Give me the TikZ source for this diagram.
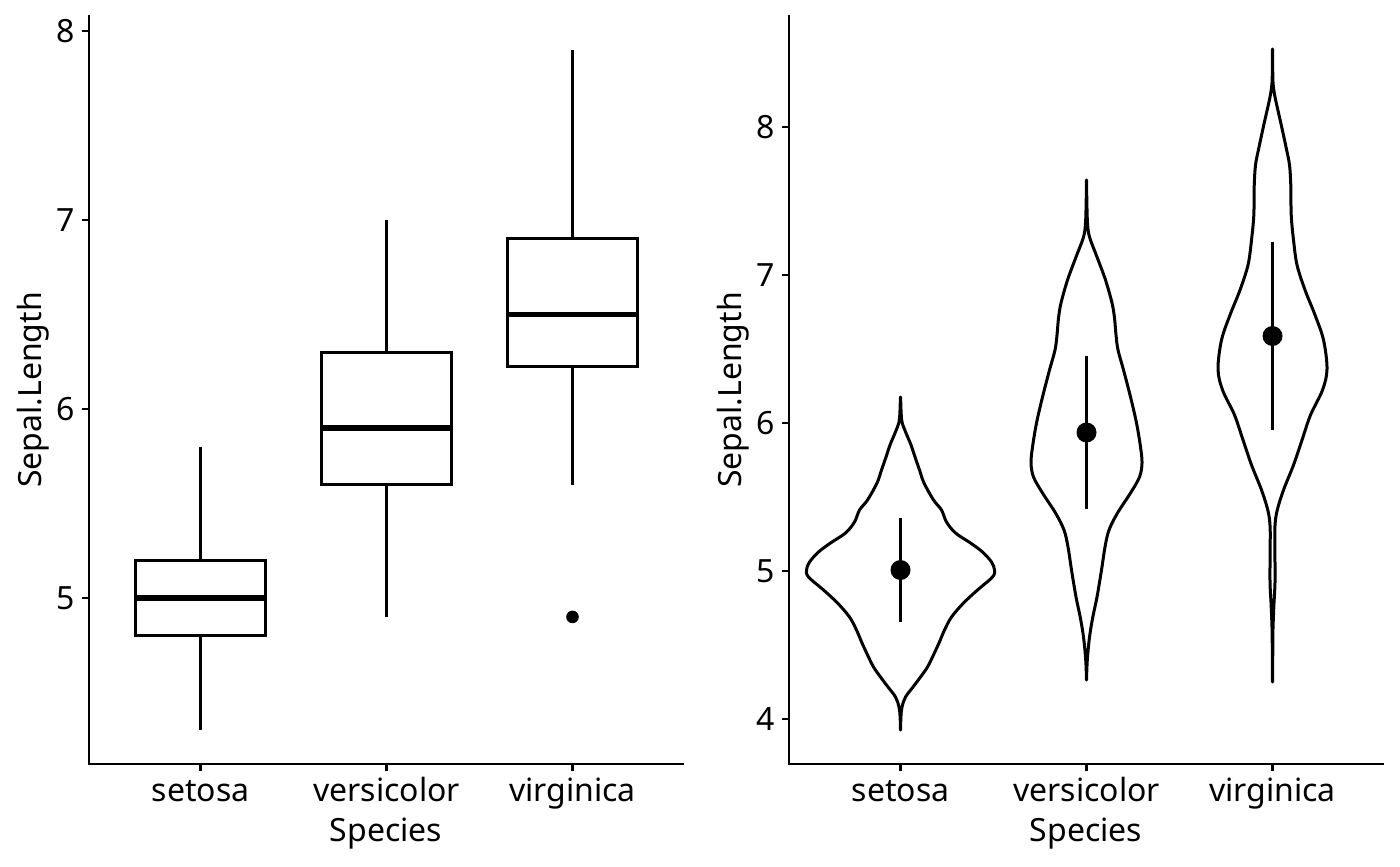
\documentclass[tikz,border=0pt]{standalone}
\usepackage{fontspec}
\setmainfont{Noto Sans}
\begin{document}
\begin{tikzpicture}[x=0.5pt,y=-0.5pt,
  ax/.style={line width=1.3pt, line cap=rect},
  tk/.style={line width=1.3pt},
  bx/.style={line width=1.45pt, fill=white},
  med/.style={line width=2.9pt},
  wh/.style={line width=1.3pt},
  vio/.style={line width=1.5pt, fill=white, line join=round},
  pr/.style={line width=1.6pt},
  lab/.style={font=\fontsize{16}{19}\selectfont, inner sep=0pt},
]
\useasboundingbox (0,0) rectangle (1400,866);
\fill[white] (0,0) rectangle (1400,866);

% ---------------- Left panel: box plot ----------------
\draw[ax] (89,16) -- (89,764) -- (683,764);
\foreach \v/\y in {5/598,6/409,7/220,8/31}{
  \draw[tk] (82,\y) -- (89,\y);
  \node[lab, anchor=east] (ly\v) at (75,\y) {\v};
}
\foreach \n/\x/\t in {a/200.5/setosa, b/386.5/versicolor, c/572.5/virginica}{
  \draw[tk] (\x,764) -- (\x,771);
  \node[lab, anchor=base] (lx\n) at (\x,801) {\t};
}
\node[lab, anchor=base] (lxt) at (386,841) {Species};
\node[lab, rotate=90, anchor=base] (lyt) at (41,390) {Sepal.Length};

% setosa
\draw[wh] (200.5,446.8) -- (200.5,560.2);
\draw[wh] (200.5,635.8) -- (200.5,730.3);
\draw[bx] (135.5,560.2) rectangle (265.5,635.8);
\draw[med] (135.5,598) -- (265.5,598);
% versicolor
\draw[wh] (386.5,220) -- (386.5,352.3);
\draw[wh] (386.5,484.6) -- (386.5,616.9);
\draw[bx] (321.5,352.3) rectangle (451.5,484.6);
\draw[med] (321.5,427.9) -- (451.5,427.9);
% virginica
\draw[wh] (572.5,49.9) -- (572.5,238.9);
\draw[wh] (572.5,366.5) -- (572.5,484.6);
\draw[bx] (507.5,238.9) rectangle (637.5,366.5);
\draw[med] (507.5,314.5) -- (637.5,314.5);
\fill (572.5,616.9) circle[radius=6.3];

% ---------------- Right panel: violin plot ----------------
\draw[ax] (789,16) -- (789,764) -- (1383,764);
\foreach \v/\y in {4/719,5/571,6/423,7/275,8/127}{
  \draw[tk] (782,\y) -- (789,\y);
  \node[lab, anchor=east] (ry\v) at (775,\y) {\v};
}
\foreach \n/\x/\t in {a/900.5/setosa, b/1086.5/versicolor, c/1272.5/virginica}{
  \draw[tk] (\x,764) -- (\x,771);
  \node[lab, anchor=base] (rx\n) at (\x,801) {\t};
}
\node[lab, anchor=base] (rxt) at (1086,841) {Species};
\node[lab, rotate=90, anchor=base] (ryt) at (741,390) {Sepal.Length};

% setosa violin
\begin{scope}[shift={(900.5,0)}]
\draw[vio] plot[smooth cycle, tension=0.55] coordinates {
 (0,397) (0.5,410) (1.5,422) (5.5,433) (10.5,445) (14.5,457) (19,470) (23.5,483) (33,500) (41,510) (46,522) (55,533) (70,543) (82,552) (91,562) (94,570) (92,577) (77,590) (63,603) (51,617) (44,630) (38.5,643) (32,657) (27,667) (20,677) (12.5,687) (5,697) (1.5,707) (0.4,717) (0,730)
 (-0.4,717) (-1.5,707) (-5,697) (-12.5,687) (-20,677) (-27,667) (-32,657) (-38.5,643) (-44,630) (-51,617) (-63,603) (-77,590) (-92,577) (-94,570) (-91,562) (-82,552) (-70,543) (-55,533) (-46,522) (-41,510) (-33,500) (-23.5,483) (-19,470) (-14.5,457) (-10.5,445) (-5.5,433) (-1.5,422) (-0.5,410)};
\draw[pr] (0,518) -- (0,622);
\fill (0,570) circle[radius=10];
\end{scope}

% versicolor violin
\begin{scope}[shift={(1086.5,0)}]
\draw[vio] plot[smooth cycle, tension=0.55] coordinates {
 (0,180) (0.3,200) (1,223) (3,237) (10.5,257) (19,280) (25.5,303) (28,318) (29.5,335) (31.5,350) (37,370) (44,397) (50,423) (54,447) (55.5,463) (53,477) (44,493) (31,513) (22.5,530) (18.5,547) (15,570) (10.5,597) (6.3,617) (3,637) (1,657) (0.3,670) (0,680)
 (-0.3,670) (-1,657) (-3,637) (-6.3,617) (-10.5,597) (-15,570) (-18.5,547) (-22.5,530) (-31,513) (-44,493) (-53,477) (-55.5,463) (-54,447) (-50,423) (-44,397) (-37,370) (-31.5,350) (-29.5,335) (-28,318) (-25.5,303) (-19,280) (-10.5,257) (-3,237) (-1,223) (-0.3,200)};
\draw[pr] (0,356) -- (0,509);
\fill (0,432.5) circle[radius=10];
\end{scope}

% virginica violin
\begin{scope}[shift={(1272.5,0)}]
\draw[vio] plot[smooth cycle, tension=0.55] coordinates {
 (0,49) (0.2,70) (0.6,84) (2.7,98) (8.3,123) (13.7,148) (17,165) (18.3,186) (18.7,215) (21,240) (24.5,265) (32.5,290) (42.5,315) (51,340) (54.5,369) (50,390) (38,415) (29.5,440) (21,465) (11,490) (4.5,511) (2.4,527) (2.4,552) (2.5,582) (1.3,607) (0.4,632) (0.2,660) (0,682)
 (-0.2,660) (-0.4,632) (-1.3,607) (-2.5,582) (-2.4,552) (-2.4,527) (-4.5,511) (-11,490) (-21,465) (-29.5,440) (-38,415) (-50,390) (-54.5,369) (-51,340) (-42.5,315) (-32.5,290) (-24.5,265) (-21,240) (-18.7,215) (-18.3,186) (-17,165) (-13.7,148) (-8.3,123) (-2.7,98) (-0.6,84) (-0.2,70)};
\draw[pr] (0,242) -- (0,430);
\fill (0,336) circle[radius=10];
\end{scope}
\end{tikzpicture}
\end{document}
